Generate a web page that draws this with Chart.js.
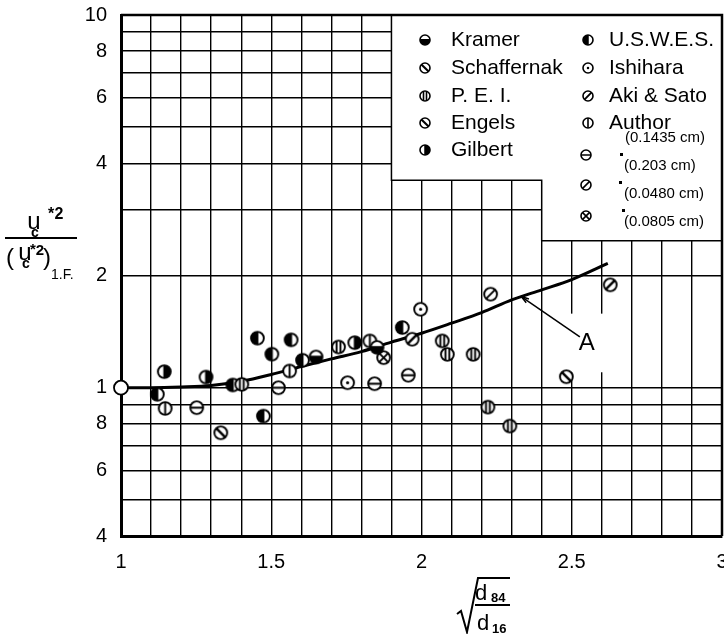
<!DOCTYPE html>
<html>
<head>
<meta charset="utf-8">
<script src="https://cdn.jsdelivr.net/npm/chart.js@4.4.1/dist/chart.umd.min.js"></script>
<style>
  html, body { margin: 0; padding: 0; background: #fff; overflow: hidden; }
  #wrap { position: relative; width: 724px; height: 634px; }
</style>
</head>
<body>
<div id="wrap"><canvas id="chart"></canvas></div>
<script>
// axis ticks (graph paper lines)
const xTickValues = [1, 1.1, 1.2, 1.3, 1.4, 1.5, 1.6, 1.7, 1.8, 1.9, 2, 2.1, 2.2, 2.3, 2.4, 2.5, 2.6, 2.7, 2.8, 2.9, 3];
const xTickLabels = ['1', '', '', '', '', '1.5', '', '', '', '', '2', '', '', '', '', '2.5', '', '', '', '', '3'];
const yTickValues = [0.4, 0.5, 0.6, 0.7, 0.8, 0.9, 1, 2, 3, 4, 5, 6, 7, 8, 9, 10];
const yTickLabels = ['4', '', '6', '', '8', '', '1', '2', '', '4', '', '6', '', '8', '', '10'];

// curve A
const curveX = [1.0, 1.1, 1.2, 1.3, 1.4, 1.5, 1.6, 1.7, 1.8, 1.9, 2.0, 2.1, 2.2, 2.3, 2.4, 2.5, 2.62];
const curveY = [1.0, 1.0, 1.004, 1.013, 1.04, 1.085, 1.14, 1.195, 1.25, 1.325, 1.40, 1.49, 1.59, 1.72, 1.83, 1.95, 2.155];

// data points per source
const originX = [1];
const originY = [1];
const kramerX = [1.649, 1.852];
const kramerY = [1.209, 1.283];
const schaffernakX = [1.332];
const schaffernakY = [0.757];
const peiX = [1.402, 1.724, 2.069, 2.086, 2.172, 2.221, 2.294];
const peiY = [1.021, 1.286, 1.335, 1.229, 1.229, 0.887, 0.789];
const engelsX = [2.482];
const engelsY = [1.07];
const gilbertX = [1.144, 1.283, 1.778];
const gilbertY = [1.104, 1.068, 1.321];
const uswesX = [1.121, 1.372, 1.454, 1.474, 1.502, 1.566, 1.604, 1.936];
const uswesY = [0.960, 1.017, 1.358, 0.839, 1.230, 1.344, 1.185, 1.450];
const ishiharaX = [1.754, 1.997];
const ishiharaY = [1.031, 1.624];
const akiSatoX = [1.969, 2.628];
const akiSatoY = [1.349, 1.888];
const author1435X = [1.147, 1.561, 1.828];
const author1435Y = [0.880, 1.109, 1.335];
const author203X = [1.252, 1.524, 1.844, 1.956];
const author203Y = [0.884, 1.0, 1.025, 1.08];
const author0480X = [2.23];
const author0480Y = [1.782];
const author0805X = [1.874];
const author0805Y = [1.204];

const FONT = "'Liberation Sans', Arial, sans-serif";

// draw one of the paper's circle symbols
function drawMarker(ctx, type, cx, cy, r) {
  ctx.save();
  ctx.lineWidth = Math.max(1.6, r * 0.3);
  ctx.strokeStyle = '#000';
  ctx.fillStyle = '#fff';
  ctx.beginPath();
  ctx.arc(cx, cy, r, 0, Math.PI * 2);
  ctx.fill();

  ctx.save();
  ctx.beginPath();
  ctx.arc(cx, cy, r, 0, Math.PI * 2);
  ctx.clip();
  ctx.fillStyle = '#000';
  const ln = (x1, y1, x2, y2) => {
    ctx.beginPath();
    ctx.moveTo(x1, y1);
    ctx.lineTo(x2, y2);
    ctx.stroke();
  };
  const d = r * 0.72;
  switch (type) {
    case 'lowerFill':
      ctx.fillRect(cx - r, cy - r * 0.2, 2 * r, 2 * r);
      break;
    case 'leftFill':
      ctx.fillRect(cx - r, cy - r, r * 1.15, 2 * r);
      break;
    case 'rightFill':
      ctx.fillRect(cx - r * 0.15, cy - r, r * 1.15, 2 * r);
      break;
    case 'backslash':
      ctx.lineWidth *= 1.3;
      ln(cx - d, cy - d, cx + d, cy + d);
      break;
    case 'slash':
      ln(cx - d, cy + d, cx + d, cy - d);
      break;
    case 'twoBars':
      ln(cx - r * 0.3, cy - r, cx - r * 0.3, cy + r);
      ln(cx + r * 0.3, cy - r, cx + r * 0.3, cy + r);
      break;
    case 'vbar':
      ln(cx, cy - r, cx, cy + r);
      break;
    case 'hbar':
      ln(cx - r, cy, cx + r, cy);
      break;
    case 'cross':
      ln(cx - d, cy - d, cx + d, cy + d);
      ln(cx - d, cy + d, cx + d, cy - d);
      break;
    case 'dot':
      ctx.beginPath();
      ctx.arc(cx, cy, r * 0.25, 0, Math.PI * 2);
      ctx.fill();
      break;
    case 'hatch':
      ctx.lineWidth = r * 0.38;
      for (const o of [-0.75, 0, 0.75]) {
        ln(cx - r + o * r, cy + r + o * r, cx + r + o * r, cy - r + o * r);
      }
      break;
  }
  ctx.restore();

  ctx.beginPath();
  ctx.arc(cx, cy, r, 0, Math.PI * 2);
  ctx.stroke();
  ctx.restore();
}

function markerCanvas(type, r) {
  const size = Math.ceil(2 * r + 4);
  const c = document.createElement('canvas');
  c.width = size;
  c.height = size;
  drawMarker(c.getContext('2d'), type, size / 2, size / 2, r);
  return c;
}

function pts(xs, ys) {
  return xs.map((x, i) => ({ x: x, y: ys[i] }));
}

function series(label, xs, ys, type) {
  return {
    type: 'scatter',
    label: label,
    data: pts(xs, ys),
    pointStyle: markerCanvas(type, 6.4),
    pointRadius: 7,
    clip: false
  };
}

// no label padding around the plot box
const noPad = s => { s.paddingLeft = 0; s.paddingRight = 0; s.paddingTop = 0; s.paddingBottom = 0; };

// legend and annotation (drawn on top of the graph paper)
const legendLeft = [['lowerFill', 'Kramer'], ['backslash', 'Schaffernak'], ['twoBars', 'P. E. I.'], ['backslash', 'Engels'], ['rightFill', 'Gilbert']];
const legendRight = [['leftFill', 'U.S.W.E.S.'], ['dot', 'Ishihara'], ['hatch', 'Aki & Sato'], ['vbar', 'Author']];
const legendSizes = [['hbar', '(0.203 cm)'], ['slash', '(0.0480 cm)'], ['cross', '(0.0805 cm)']];

const paperPlugin = {
  id: 'paper',
  beforeDatasetsDraw(chart) {
    const { ctx, scales: { x, y } } = chart;
    const px = v => x.getPixelForValue(v);
    const py = v => y.getPixelForValue(v);
    ctx.save();

    // white legend block over the grid
    const bx0 = px(1.9), bx1 = px(2.4), bx2 = px(3);
    const by0 = py(10), by1 = py(3.6), by2 = py(2.48);
    ctx.fillStyle = '#fff';
    ctx.beginPath();
    ctx.moveTo(bx0, by0);
    ctx.lineTo(bx0, by1);
    ctx.lineTo(bx1, by1);
    ctx.lineTo(bx1, by2);
    ctx.lineTo(bx2, by2);
    ctx.lineTo(bx2, by0);
    ctx.closePath();
    ctx.fill();
    ctx.strokeStyle = '#000';
    ctx.lineWidth = 1.5;
    ctx.beginPath();
    ctx.moveTo(bx0, by0);
    ctx.lineTo(bx0, by1);
    ctx.lineTo(bx1, by1);
    ctx.lineTo(bx1, by2);
    ctx.lineTo(bx2, by2);
    ctx.stroke();

    // blank patch behind the label A
    ctx.fillRect(px(2.49), py(1.58), px(2.62) - px(2.49), py(1.1) - py(1.58));

    // outer frame: top and right edges
    const a = chart.chartArea;
    ctx.lineWidth = 2.5;
    ctx.beginPath();
    ctx.moveTo(a.left, a.top);
    ctx.lineTo(a.right, a.top);
    ctx.lineTo(a.right, a.bottom);
    ctx.stroke();

    // legend entries
    ctx.fillStyle = '#000';
    ctx.textBaseline = 'middle';
    ctx.textAlign = 'left';
    ctx.font = '21px ' + FONT;
    const rowY = [40, 68, 96, 123, 150];
    legendLeft.forEach((e, i) => {
      drawMarker(ctx, e[0], 425, rowY[i], 5);
      ctx.fillText(e[1], 451, rowY[i]);
    });
    legendRight.forEach((e, i) => {
      drawMarker(ctx, e[0], 588, rowY[i], 5);
      ctx.fillText(e[1], 609, rowY[i]);
    });
    ctx.font = '15px ' + FONT;
    ctx.fillText('(0.1435 cm)', 625, 138);
    const sizeY = [155, 185, 216];
    const textY = [166, 194, 222];
    const dittoX = [620, 619, 622];
    legendSizes.forEach((e, i) => {
      drawMarker(ctx, e[0], 586, sizeY[i], 5);
      ctx.fillRect(dittoX[i], textY[i] - 13, 3, 3);
      ctx.fillText(e[1], 624, textY[i]);
    });

    // label A with its leader
    ctx.lineWidth = 1.5;
    const sx = px(2.527), sy = py(1.369), ex = px(2.332), ey = py(1.756);
    ctx.beginPath();
    ctx.moveTo(sx, sy);
    ctx.lineTo(ex, ey);
    ctx.stroke();
    const ang = Math.atan2(ey - sy, ex - sx);
    ctx.beginPath();
    ctx.moveTo(ex, ey);
    ctx.lineTo(ex - 8 * Math.cos(ang - 0.3), ey - 8 * Math.sin(ang - 0.3));
    ctx.moveTo(ex, ey);
    ctx.lineTo(ex - 8 * Math.cos(ang + 0.3), ey - 8 * Math.sin(ang + 0.3));
    ctx.stroke();
    ctx.font = '24px ' + FONT;
    ctx.textAlign = 'center';
    ctx.fillText('A', px(2.55), py(1.311));
    ctx.restore();
  },
  afterDraw(chart) {
    const ctx = chart.ctx;
    ctx.save();
    ctx.fillStyle = '#000';
    ctx.strokeStyle = '#000';
    ctx.textAlign = 'center';
    ctx.textBaseline = 'alphabetic';

    // y title: u_c*2 / (u_c*2)_1.F.
    ctx.font = '24px ' + FONT;
    ctx.fillText('u', 34, 229);
    ctx.font = 'bold 14px ' + FONT;
    ctx.fillText('c', 35, 237);
    ctx.font = 'bold 16px ' + FONT;
    ctx.fillText('*', 51, 219);
    ctx.fillText('2', 59, 219);
    ctx.lineWidth = 2;
    ctx.beginPath();
    ctx.moveTo(5, 238);
    ctx.lineTo(77, 238);
    ctx.stroke();
    ctx.font = '24px ' + FONT;
    ctx.fillText('(', 10, 265);
    ctx.fillText('u', 25, 260);
    ctx.fillText(')', 47, 265);
    ctx.font = 'bold 14px ' + FONT;
    ctx.fillText('c', 26, 268);
    ctx.font = 'bold 15px ' + FONT;
    ctx.fillText('*', 33, 254);
    ctx.fillText('2', 40, 255);
    ctx.font = '14px ' + FONT;
    ctx.textAlign = 'left';
    ctx.fillText('1.F.', 51, 279);

    // x title: sqrt(d84 / d16)
    ctx.lineWidth = 2;
    ctx.beginPath();
    ctx.moveTo(457, 614);
    ctx.lineTo(461, 611);
    ctx.lineTo(467, 632);
    ctx.lineTo(478, 578);
    ctx.lineTo(510, 578);
    ctx.stroke();
    ctx.beginPath();
    ctx.moveTo(475, 605);
    ctx.lineTo(510, 605);
    ctx.stroke();
    ctx.font = '22px ' + FONT;
    ctx.fillText('d', 475, 600);
    ctx.fillText('d', 477, 630);
    ctx.font = 'bold 13px ' + FONT;
    ctx.fillText('84', 491, 602);
    ctx.fillText('16', 492, 633);
    ctx.restore();
  }
};

new Chart(document.getElementById('chart'), {
  type: 'scatter',
  data: {
    datasets: [
      {
        type: 'scatter',
        label: 'origin',
        data: pts(originX, originY),
        pointStyle: 'circle',
        pointRadius: 7,
        pointBackgroundColor: '#fff',
        pointBorderColor: '#000',
        pointBorderWidth: 1.8,
        clip: false
      },
      series('Kramer', kramerX, kramerY, 'lowerFill'),
      series('Schaffernak', schaffernakX, schaffernakY, 'backslash'),
      series('P. E. I.', peiX, peiY, 'twoBars'),
      series('Engels', engelsX, engelsY, 'backslash'),
      series('Gilbert', gilbertX, gilbertY, 'rightFill'),
      series('U.S.W.E.S.', uswesX, uswesY, 'leftFill'),
      series('Ishihara', ishiharaX, ishiharaY, 'dot'),
      series('Aki & Sato', akiSatoX, akiSatoY, 'hatch'),
      series('Author (0.1435 cm)', author1435X, author1435Y, 'vbar'),
      series('Author (0.203 cm)', author203X, author203Y, 'hbar'),
      series('Author (0.0480 cm)', author0480X, author0480Y, 'slash'),
      series('Author (0.0805 cm)', author0805X, author0805Y, 'cross'),
      {
        type: 'line',
        label: 'A',
        data: pts(curveX, curveY),
        borderColor: '#000',
        borderWidth: 3,
        pointRadius: 0,
        fill: false,
        cubicInterpolationMode: 'monotone',
        clip: false
      }
    ]
  },
  options: {
    responsive: true,
    maintainAspectRatio: false,
    animation: false,
    events: [],
    layout: { autoPadding: false, padding: { top: 15, right: 2, left: 0, bottom: 0 } },
    plugins: {
      legend: { display: false },
      tooltip: { enabled: false }
    },
    scales: {
      x: {
        type: 'linear',
        min: 1,
        max: 3,
        afterBuildTicks: s => { s.ticks = xTickValues.map(v => ({ value: v })); },
        afterFit: s => { s.height = 98; noPad(s); },
        grid: { color: '#000', lineWidth: 1.4, drawTicks: false },
        border: { color: '#000', width: 3 },
        ticks: {
          autoSkip: false,
          maxRotation: 0,
          padding: 14,
          color: '#000',
          font: { family: FONT, size: 20 },
          callback: (v, i) => xTickLabels[i]
        }
      },
      y: {
        type: 'logarithmic',
        min: 0.4,
        max: 10,
        afterBuildTicks: s => { s.ticks = yTickValues.map(v => ({ value: v })); },
        afterFit: s => { s.width = 121; noPad(s); },
        grid: { color: '#000', lineWidth: 1.4, drawTicks: false },
        border: { color: '#000', width: 3 },
        ticks: {
          autoSkip: false,
          padding: 14,
          color: '#000',
          font: { family: FONT, size: 20 },
          callback: (v, i) => yTickLabels[i]
        }
      }
    }
  },
  plugins: [paperPlugin]
});
</script>
</body>
</html>
